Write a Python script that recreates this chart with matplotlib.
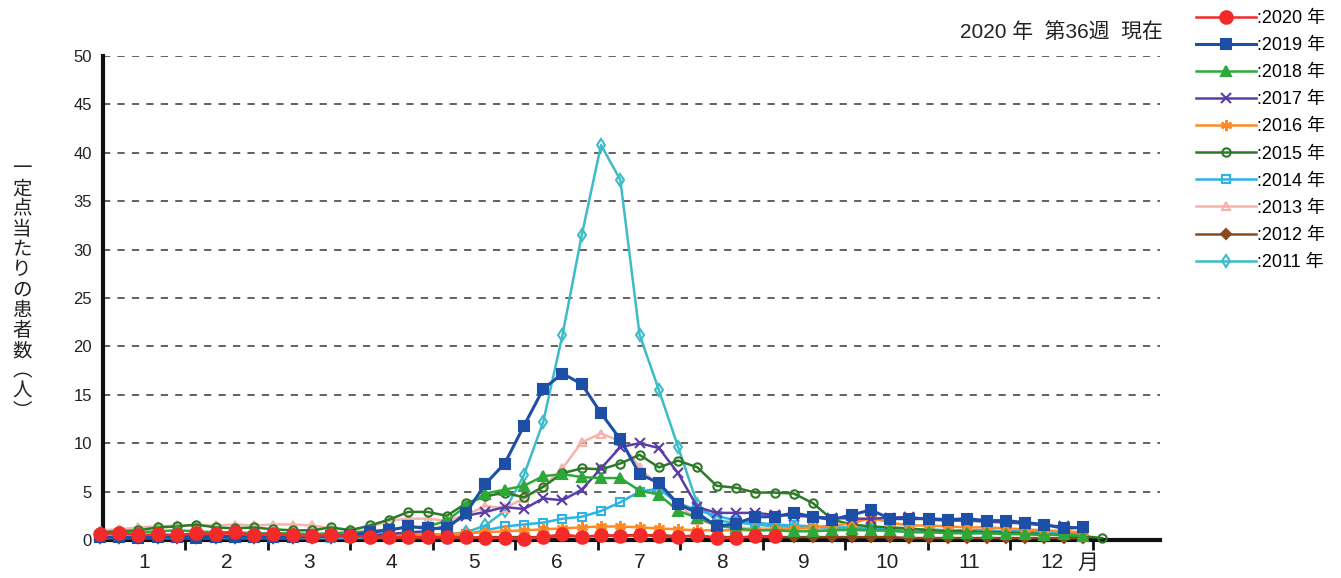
import matplotlib
matplotlib.use("Agg")
import matplotlib.pyplot as plt
import numpy as np

plt.rcParams["font.family"] = ["Liberation Sans", "Noto Sans CJK JP", "DejaVu Sans"]

# weekly values per sentinel site
y2020 = [0.6, 0.7, 0.5, 0.6, 0.5, 0.7, 0.6, 0.8, 0.5, 0.6, 0.5, 0.4, 0.5, 0.4, 0.3, 0.3, 0.3, 0.3,
         0.3, 0.3, 0.2, 0.2, 0.1, 0.3, 0.6, 0.3, 0.5, 0.4, 0.5, 0.4, 0.3, 0.5, 0.2, 0.2, 0.4, 0.4]
y2019 = [0.3, 0.3, 0.2, 0.3, 0.3, 0.2, 0.3, 0.3, 0.3, 0.3, 0.3, 0.4, 0.4, 0.5, 0.8, 1.0, 1.4, 1.2,
         1.2, 2.8, 5.8, 7.9, 11.8, 15.6, 17.2, 16.1, 13.1, 10.4, 6.8, 5.9, 3.7, 2.8, 1.4, 1.7, 2.4, 2.4,
         2.8, 2.4, 2.1, 2.6, 3.1, 2.2, 2.2, 2.2, 2.1, 2.2, 2.0, 2.0, 1.8, 1.6, 1.2, 1.3]
y2018 = [0.6, 0.7, 0.8, 0.9, 1.0, 0.9, 0.8, 0.8, 0.7, 0.7, 0.7, 0.6, 0.7, 0.8, 0.9, 1.1, 1.3, 1.4,
         2.0, 3.5, 4.8, 5.2, 5.6, 6.6, 6.8, 6.5, 6.4, 6.4, 5.1, 4.7, 3.0, 2.3, 1.5, 1.2, 1.0, 1.0,
         0.9, 0.9, 1.0, 1.1, 1.0, 1.0, 0.8, 0.8, 0.7, 0.7, 0.7, 0.6, 0.6, 0.5, 0.6, 0.4]
y2017 = [0.3, 0.3, 0.3, 0.3, 0.4, 0.4, 0.4, 0.4, 0.3, 0.3, 0.3, 0.3, 0.4, 0.4, 0.5, 0.6, 0.8, 0.9,
         1.5, 2.5, 2.9, 3.4, 3.2, 4.3, 4.1, 5.2, 7.4, 9.6, 10.0, 9.5, 6.9, 3.4, 2.8, 2.8, 2.8, 2.6,
         2.5, 2.4, 2.3, 2.2, 2.2, 2.3, 2.4, 2.1, 2.0, 2.0, 1.9, 1.8, 1.7, 1.5, 1.4, 1.2]
y2016 = [0.3, 0.3, 0.4, 0.4, 0.4, 0.5, 0.5, 0.5, 0.4, 0.4, 0.4, 0.4, 0.5, 0.5, 0.5, 0.6, 0.6, 0.6,
         0.6, 0.7, 0.8, 0.9, 1.0, 1.1, 1.2, 1.3, 1.4, 1.4, 1.3, 1.2, 1.1, 1.0, 1.0, 1.0, 1.0, 1.1,
         1.2, 1.3, 1.5, 1.7, 2.3, 1.8, 1.5, 1.5, 1.4, 1.3, 1.3, 1.2, 1.1, 1.0, 0.9, 0.8]
y2015 = [0.8, 0.9, 1.0, 1.3, 1.4, 1.6, 1.3, 1.2, 1.3, 1.1, 1.0, 1.0, 1.3, 1.0, 1.5, 2.1, 2.9, 2.9,
         2.5, 3.8, 4.5, 4.9, 4.4, 5.5, 6.9, 7.4, 7.3, 7.9, 8.8, 7.5, 8.2, 7.5, 5.6, 5.4, 4.9, 4.9,
         4.8, 3.8, 2.1, 1.6, 1.4, 1.3, 1.2, 1.0, 0.9, 0.9, 0.8, 0.8, 0.7, 0.6, 0.5, 0.4, 0.2]
y2014 = [0.2, 0.2, 0.2, 0.2, 0.2, 0.2, 0.2, 0.2, 0.2, 0.2, 0.2, 0.2, 0.2, 0.2, 0.3, 0.3, 0.4, 0.4,
         0.5, 0.6, 1.0, 1.4, 1.6, 1.8, 2.2, 2.4, 3.0, 3.9, 5.0, 5.3, 3.8, 3.1, 2.5, 2.0, 1.8, 1.6,
         1.5, 1.4, 1.3, 1.3, 1.2, 1.2, 1.1, 1.1, 1.0, 1.0, 1.0, 0.9, 0.9, 0.8, 0.8, 0.7]
y2013 = [1.0, 1.1, 1.3, 1.4, 1.5, 1.5, 1.5, 1.6, 1.5, 1.6, 1.6, 1.5, 1.2, 1.1, 1.3, 2.0, 2.2, 2.2,
         2.0, 2.6, 3.5, 3.3, 4.3, 5.5, 7.4, 10.1, 11.0, 10.2, 7.5, 5.5, 3.6, 2.1, 1.5, 1.3, 1.2, 1.2,
         1.1, 1.1, 1.0, 1.0, 1.0, 1.0, 0.9, 0.9, 0.9, 0.8, 0.8, 0.8, 0.7, 0.7, 0.6, 0.6]
y2012 = [0.2, 0.2, 0.2, 0.2, 0.2, 0.2, 0.2, 0.2, 0.2, 0.2, 0.2, 0.2, 0.2, 0.2, 0.2, 0.2, 0.2, 0.2,
         0.2, 0.2, 0.3, 0.3, 0.3, 0.3, 0.4, 0.4, 0.4, 0.5, 0.5, 0.5, 0.4, 0.4, 0.3, 0.3, 0.3, 0.3,
         0.3, 0.3, 0.3, 0.3, 0.3, 0.3, 0.2, 0.2, 0.2, 0.2, 0.2, 0.2, 0.2, 0.2, 0.2, 0.2]
y2011 = [0.3, 0.3, 0.3, 0.3, 0.3, 0.3, 0.3, 0.3, 0.3, 0.3, 0.3, 0.3, 0.3, 0.3, 0.3, 0.4, 0.4, 0.5,
         0.6, 0.8, 1.5, 3.0, 6.7, 12.2, 21.2, 31.5, 40.8, 37.2, 21.2, 15.5, 9.6, 3.7, 2.0, 1.8, 1.6, 1.4,
         1.3, 1.2, 1.1, 1.0, 1.0, 0.9, 0.9, 0.8, 0.8, 0.7, 0.7, 0.7, 0.6, 0.6, 0.5, 0.5]

months = ["1", "2", "3", "4", "5", "6", "7", "8", "9", "10", "11", "12"]
yticks = [0, 5, 10, 15, 20, 25, 30, 35, 40, 45, 50]

# label, values, color, marker, marker size, filled, line width
series = [
    (":2020 年", y2020, "#f42a2a", "o", 9, True, 1.8),
    (":2019 年", y2019, "#1d4fa6", "s", 6.5, True, 2.2),
    (":2018 年", y2018, "#2fa83a", "^", 6.5, True, 1.8),
    (":2017 年", y2017, "#5a3da6", "x", 7, True, 1.8),
    (":2016 年", y2016, "#ff8a24", (6, 2, 0), 8, True, 1.8),
    (":2015 年", y2015, "#2c7a28", "o", 6, False, 1.8),
    (":2014 年", y2014, "#2bb3e6", "s", 5.5, False, 1.8),
    (":2013 年", y2013, "#f7b3aa", "^", 6, False, 1.8),
    (":2012 年", y2012, "#8a4a1c", "D", 5.5, True, 1.8),
    (":2011 年", y2011, "#3cbcc6", "d", 6, False, 1.8),
]

fig = plt.figure(figsize=(13.41, 5.78), dpi=100)
ax = fig.add_axes([103 / 1341, 1 - 540 / 578, (1160 - 103) / 1341, (540 - 56) / 578])

n = len(series)
for i, (label, vals, color, marker, ms, filled, lw) in enumerate(series):
    weeks = np.arange(1, len(vals) + 1)
    ax.plot(weeks, vals, color=color, lw=lw, marker=marker, ms=ms,
            mfc=color if filled else "none", mec=color, mew=1.5,
            label=label, zorder=3 + (n - i), clip_on=False)

ax.set_xlim(1.16, 56.0)
ax.set_ylim(0, 50)

# month boundaries as ticks, month labels in the middle
step = 4.28
bounds = [1.16 + step * k for k in range(1, 13)]
centers = [1.16 + step * (k + 0.5) for k in range(12)]
ax.set_xticks(bounds)
ax.set_xticklabels([])
ax.set_xticks(centers, minor=True)
ax.set_xticklabels(months, minor=True, fontsize=15, color="#222")
ax.tick_params(axis="x", which="major", direction="out", length=7, width=2, color="#111")
ax.tick_params(axis="x", which="minor", length=0, pad=9)
fig.text(1088 / 1341, 1 - 563 / 578, "月", fontsize=15, color="#222", ha="center", va="center",
         family=["Noto Sans CJK JP"])

ax.set_yticks(yticks)
ax.set_yticklabels([str(v) for v in yticks], fontsize=12, color="#222")
ax.tick_params(axis="y", length=0, pad=8)

ax.yaxis.grid(True, color="#555", linestyle=(0, (4, 4)), lw=1.3)
ax.set_axisbelow(True)

for s in ["top", "right"]:
    ax.spines[s].set_visible(False)
ax.spines["left"].set_linewidth(3)
ax.spines["bottom"].set_linewidth(3)
ax.spines["left"].set_color("#111")
ax.spines["bottom"].set_color("#111")

fig.text(1163 / 1341, 1 - 32 / 578, "2020 年  第36週  現在", ha="right", va="center",
         fontsize=15, color="#222", family=["Liberation Sans", "Noto Sans CJK JP"])

ylabel = "\n".join("一定点当たりの患者数︵人︶")
fig.text(22 / 1341, 1 - 290 / 578, ylabel, ha="center", va="center", fontsize=14,
         linespacing=0.95, color="#222", family=["Noto Sans CJK JP"])

fig.legend(loc="upper left", bbox_to_anchor=(1196 / 1341, 1 - 10 / 578), frameon=False,
           fontsize=13, handlelength=3.3, handletextpad=0.1, labelspacing=0.56,
           borderaxespad=0, borderpad=0)

fig.savefig("out.png", dpi=100, facecolor="white")
